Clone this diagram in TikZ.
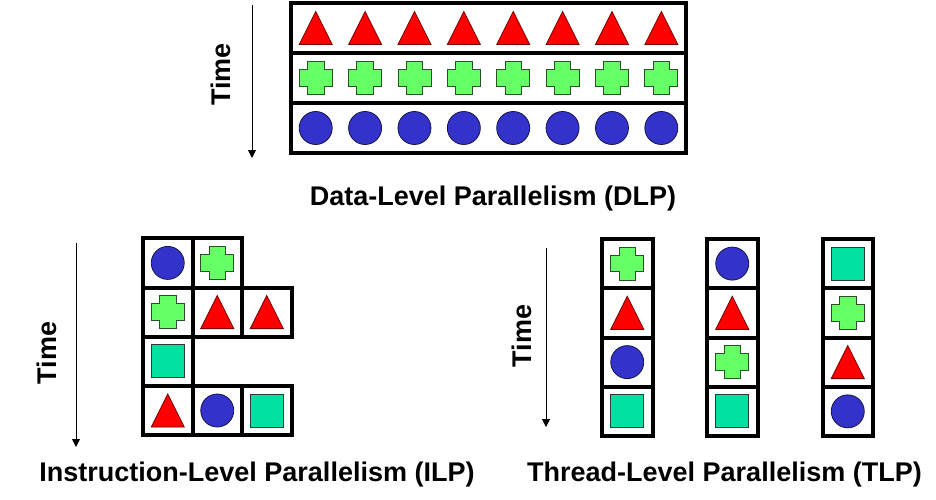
\documentclass[tikz,border=0pt]{standalone}
\usepackage{fontspec}
\setmainfont{Liberation Sans}
\usetikzlibrary{arrows.meta}
\definecolor{tricol}{RGB}{255,0,0}
\definecolor{triline}{RGB}{120,0,0}
\definecolor{pluscol}{RGB}{102,255,102}
\definecolor{plusline}{RGB}{40,80,40}
\definecolor{circcol}{RGB}{51,51,204}
\definecolor{circline}{RGB}{20,20,70}
\definecolor{sqcol}{RGB}{0,224,160}
\definecolor{sqline}{RGB}{40,60,50}
\begin{document}
\begin{tikzpicture}[x=1pt,y=-1pt,
  cellbox/.style={draw=black,line width=4pt},
  timearrow/.style={line width=1pt,-{Triangle[width=8pt,length=8pt]}},
  timelabel/.style={font=\fontsize{27}{30}\selectfont\bfseries,rotate=90,inner sep=0pt},
  title/.style={font=\fontsize{27}{30}\selectfont\bfseries,anchor=base,inner sep=0pt},
  shapeline/.style={line width=0.8pt},
  tri/.pic={\draw[shapeline,fill=tricol,draw=triline] (-16.5,16.5)--(16.5,16.5)--(0,-16.5)--cycle;},
  plus/.pic={\draw[shapeline,fill=pluscol,draw=plusline]
     (-8.25,-16.5)--(8.25,-16.5)--(8.25,-8.25)--(16.5,-8.25)--(16.5,8.25)--(8.25,8.25)--(8.25,16.5)
     --(-8.25,16.5)--(-8.25,8.25)--(-16.5,8.25)--(-16.5,-8.25)--(-8.25,-8.25)--cycle;},
  circ/.pic={\draw[shapeline,fill=circcol,draw=circline] (0,0) circle (16.5);},
  sq/.pic={\draw[shapeline,fill=sqcol,draw=sqline] (-16.5,-16.5) rectangle (16.5,16.5);}
]
\useasboundingbox (0,0) rectangle (936,500);

% ---------- DLP ----------
\foreach \r/\s in {0/tri,1/plus,2/circ}{
  \draw[cellbox] (291,3+50*\r) rectangle (686,53+50*\r);
  \foreach \i in {0,...,7}{
    \pic at (315.7+49.375*\i,28+50*\r) {\s};
  }
}
\coordinate (a1s) at (252,5);
\coordinate (a1e) at (252,158);
\draw[timearrow] (a1s) -- (a1e);
\node[timelabel] (t1) at (221,74.5) {Time};
\node[title] (dlp) at (493,205) {Data-Level Parallelism (DLP)};

% ---------- ILP ----------
\foreach \c/\r/\s in {0/0/circ,1/0/plus,0/1/plus,1/1/tri,2/1/tri,0/2/sq,0/3/tri,1/3/circ,2/3/sq}{
  \draw[cellbox] (143+49.5*\c,238.3+49.2*\r) rectangle ++(49.5,49.2);
}
\foreach \c/\r/\s in {0/0/circ,1/0/plus,0/1/plus,1/1/tri,2/1/tri,0/2/sq,0/3/tri,1/3/circ,2/3/sq}{
  \pic at (167.75+49.5*\c,262.9+49.2*\r) {\s};
}
\coordinate (a2s) at (76,243);
\coordinate (a2e) at (76,447);
\draw[timearrow] (a2s) -- (a2e);
\node[timelabel] (t2) at (47,353) {Time};
\node[title] (ilp) at (257,481) {Instruction-Level Parallelism (ILP)};

% ---------- TLP ----------
\foreach \x/\la/\lb/\lc/\ld in {602/plus/tri/circ/sq,707/circ/tri/plus/sq,822.5/sq/plus/tri/circ}{
  \foreach \r/\s in {0/\la,1/\lb,2/\lc,3/\ld}{
    \draw[cellbox] (\x,239+49.25*\r) rectangle ++(50.5,49.25);
  }
  \foreach \r/\s in {0/\la,1/\lb,2/\lc,3/\ld}{
    \pic at (\x+25.25,263.6+49.25*\r) {\s};
  }
}
\coordinate (a3s) at (546,248);
\coordinate (a3e) at (546,427);
\draw[timearrow] (a3s) -- (a3e);
\node[timelabel] (t3) at (522,336) {Time};
\node[title] (tlp) at (724.5,481) {Thread-Level Parallelism (TLP)};
\end{tikzpicture}
\end{document}
